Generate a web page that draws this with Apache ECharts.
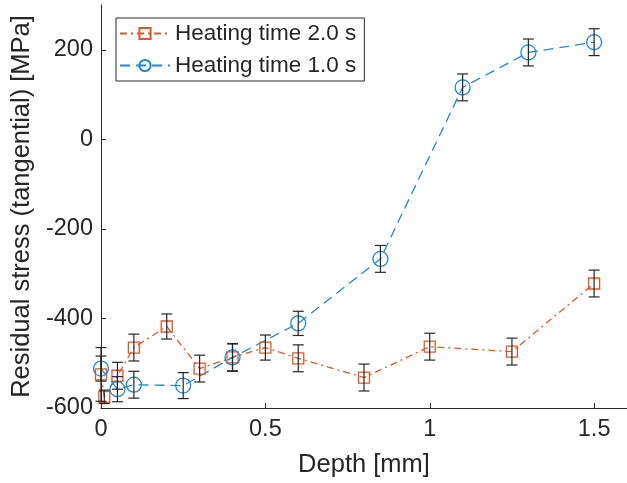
<!DOCTYPE html>
<html>
<head>
<meta charset="utf-8">
<script src="https://cdn.jsdelivr.net/npm/echarts@6/dist/echarts.min.js"></script>
<style>
  html, body { margin: 0; padding: 0; background: #fff; }
  #chart { width: 627px; height: 483px; }
</style>
</head>
<body>
<div id="chart"></div>
<script>
// Heating time 2.0 s
const depth2s  = [0, 0.01, 0.05, 0.1, 0.2, 0.3, 0.4, 0.5, 0.6, 0.8, 1.0, 1.25, 1.5];
const stress2s = [-525, -575, -528, -465, -418, -512, -487, -465, -489, -532, -463, -474, -322];
const err2s    = [60, 15, 30, 30, 28, 30, 30, 28, 30, 30, 30, 30, 30];

// Heating time 1.0 s
const depth1s  = [0, 0.05, 0.1, 0.25, 0.4, 0.6, 0.85, 1.1, 1.3, 1.5];
const stress1s = [-512, -558, -548, -550, -487, -411, -267, 116, 194, 217];
const err1s    = [28, 28, 30, 29, 31, 27, 30, 30, 30, 30];

const xTicks = [0, 0.5, 1, 1.5];
const yTicks = [-600, -400, -200, 0, 200];

const orange = '#e0582a';
const blue = '#1f88d0';
const ink = '#262626';
const font = 'Liberation Sans, Arial, sans-serif';

function zip(xs, ys, es) {
    return xs.map((x, i) => es ? [x, ys[i], es[i]] : [x, ys[i]]);
}

// vertical error bar with caps
function renderErrorBar(params, api) {
    const x = api.value(0), y = api.value(1), e = api.value(2);
    const top = api.coord([x, y + e]);
    const bot = api.coord([x, y - e]);
    const w = 5.5;
    const style = { stroke: ink, lineWidth: 1.2 };
    return {
        type: 'group',
        children: [
            { type: 'line', shape: { x1: top[0], y1: top[1], x2: bot[0], y2: bot[1] }, style: style },
            { type: 'line', shape: { x1: top[0] - w, y1: top[1], x2: top[0] + w, y2: top[1] }, style: style },
            { type: 'line', shape: { x1: bot[0] - w, y1: bot[1], x2: bot[0] + w, y2: bot[1] }, style: style }
        ]
    };
}

const myChart = echarts.init(document.getElementById('chart'), null, { renderer: 'canvas' });

myChart.setOption({
    animation: false,
    backgroundColor: '#fff',
    textStyle: { fontFamily: font },
    grid: { left: 101, top: 5, right: -2, bottom: 74, containLabel: false },
    legend: {
        orient: 'vertical',
        left: 116,
        top: 18,
        padding: [4, 8, 4, 3],
        itemGap: 9,
        itemWidth: 50,
        itemHeight: 14,
        backgroundColor: '#fff',
        borderColor: ink,
        borderWidth: 1,
        textStyle: { fontFamily: font, fontSize: 22.5, color: ink },
        data: ['Heating time 2.0 s', 'Heating time 1.0 s']
    },
    xAxis: {
        type: 'value',
        min: 0,
        max: 1.6,
        name: 'Depth [mm]',
        nameLocation: 'middle',
        nameGap: 44,
        nameTextStyle: { fontFamily: font, fontSize: 25.5, color: ink },
        axisLine: { show: true, onZero: false, lineStyle: { color: ink, width: 1 } },
        axisTick: { show: true, inside: true, length: 5, customValues: xTicks, lineStyle: { color: ink } },
        axisLabel: { customValues: xTicks, fontFamily: font, fontSize: 23.5, color: ink, margin: 10 },
        splitLine: { show: false }
    },
    yAxis: {
        type: 'value',
        min: -600,
        max: 300,
        name: 'Residual stress (tangential) [MPa]',
        nameLocation: 'middle',
        nameGap: 63,
        nameTextStyle: { fontFamily: font, fontSize: 25.5, color: ink },
        axisLine: { show: true, onZero: false, lineStyle: { color: ink, width: 1 } },
        axisTick: { show: true, inside: true, length: 5, customValues: yTicks, lineStyle: { color: ink } },
        axisLabel: { customValues: yTicks, fontFamily: font, fontSize: 23.5, color: ink, margin: 8 },
        splitLine: { show: false }
    },
    series: [
        {
            name: 'Heating time 2.0 s',
            type: 'line',
            data: zip(depth2s, stress2s),
            symbol: 'rect',
            symbolSize: 11,
            clip: false,
            z: 3,
            lineStyle: { color: orange, width: 1.3, type: [7, 4, 2, 4] },
            itemStyle: { color: 'rgba(0,0,0,0)', borderColor: orange, borderWidth: 1.3 }
        },
        {
            name: 'Heating time 1.0 s',
            type: 'line',
            data: zip(depth1s, stress1s),
            symbol: 'circle',
            symbolSize: 15,
            clip: false,
            z: 3,
            lineStyle: { color: blue, width: 1.3, type: [10, 6] },
            itemStyle: { color: 'rgba(0,0,0,0)', borderColor: blue, borderWidth: 1.3 }
        },
        {
            name: 'err2',
            type: 'custom',
            renderItem: renderErrorBar,
            data: zip(depth2s, stress2s, err2s),
            clip: false,
            z: 5,
            silent: true
        },
        {
            name: 'err1',
            type: 'custom',
            renderItem: renderErrorBar,
            data: zip(depth1s, stress1s, err1s),
            clip: false,
            z: 5,
            silent: true
        }
    ]
});
</script>
</body>
</html>
